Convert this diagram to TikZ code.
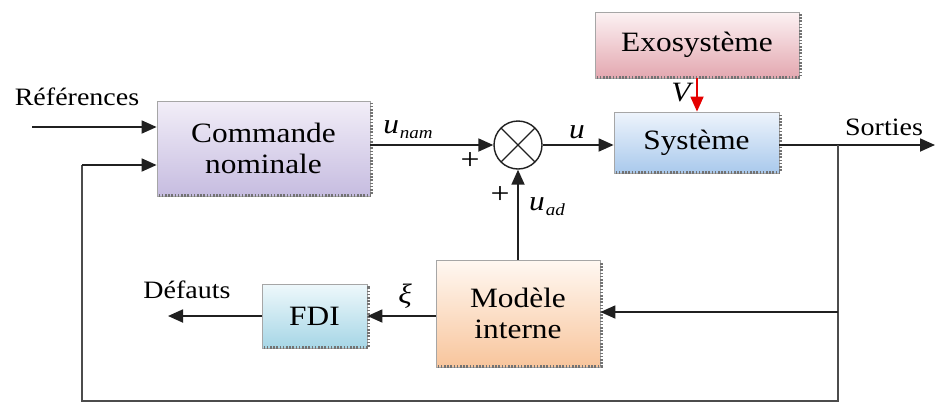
\documentclass[tikz,border=0pt]{standalone}
\usepackage{fontspec}
\setmainfont{Liberation Serif}[FakeStretch=1.12]
\usetikzlibrary{arrows.meta,calc}
\definecolor{cmdtop}{HTML}{F2EEF8}
\definecolor{cmdbot}{HTML}{C6BCE0}
\definecolor{systop}{HTML}{EEF4FC}
\definecolor{sysbot}{HTML}{A9C9EC}
\definecolor{exotop}{HTML}{FCF2F3}
\definecolor{exobot}{HTML}{E3A7B0}
\definecolor{modtop}{HTML}{FFF8F2}
\definecolor{modbot}{HTML}{F8C59C}
\definecolor{fditop}{HTML}{EEF8FB}
\definecolor{fdibot}{HTML}{A6D6E6}
\definecolor{wire}{HTML}{202020}
\tikzset{
  blk/.style={draw=black!35, line width=0.8pt, inner sep=0pt, align=center,
    font=\fontsize{28}{31}\selectfont},
  shadowline/.style={draw=black!55, line width=2.6pt, dash pattern=on 1.6pt off 1.6pt},
  arr/.style={draw=wire, line width=1.8pt, -{Triangle[length=15pt,width=13pt]}},
  ln/.style={draw=wire, line width=1.8pt},
  fb/.style={draw=black!70, line width=2.4pt},
  lbl/.style={font=\fontsize{25}{28}\selectfont, inner sep=0pt},
  plbl/.style={font=\fontsize{30}{30}\selectfont, inner sep=0pt},
  mlbl/.style={font=\fontsize{28}{30}\selectfont\itshape, inner sep=0pt},
}
\newcommand{\shadowedge}[1]{\draw[shadowline] ($(#1.south west)+(2,-1)$) -- ($(#1.south east)+(1,-1)$) -- ($(#1.north east)+(1,2)$);}
\begin{document}
\begin{tikzpicture}[x=1pt,y=-1pt]
\useasboundingbox (0,0) rectangle (936,405);

% blocks
\node[blk, top color=cmdtop, bottom color=cmdbot, minimum width=213pt, minimum height=95pt] (cmd) at (263.5,148.5) {Commande\\nominale};
\node[blk, top color=systop, bottom color=sysbot, minimum width=165pt, minimum height=61pt] (sys) at (696.5,142.5) {Système};
\node[blk, top color=exotop, bottom color=exobot, minimum width=204pt, minimum height=66pt] (exo) at (697,45) {Exosystème};
\node[blk, top color=modtop, bottom color=modbot, minimum width=164pt, minimum height=107pt] (mod) at (518,313.5) {Modèle\\interne};
\node[blk, top color=fditop, bottom color=fdibot, minimum width=105pt, minimum height=64pt] (fdi) at (314.5,316) {FDI};
\shadowedge{cmd}
\shadowedge{sys}
\shadowedge{exo}
\shadowedge{mod}
\shadowedge{fdi}

% summing junction
\node[circle, draw=wire, line width=1.4pt, minimum size=48pt, inner sep=0pt,
  path picture={\draw[wire, line width=1.2pt] (path picture bounding box.north west) -- (path picture bounding box.south east)
  (path picture bounding box.north east) -- (path picture bounding box.south west);}] (sum) at (518,145) {};

% coordinates
\coordinate (refin) at (32,127);
\coordinate (out) at (935,145);
\coordinate (br) at (838,145);
\coordinate (brb) at (838,401);
\coordinate (lb) at (82,401);
\coordinate (lt) at (82,165);
\coordinate (fbm) at (838,312);
\coordinate (def) at (168,316);

% connectors
\draw[arr] (refin) -- (refin -| cmd.west);
\draw[arr] (cmd.east |- sum.west) -- (sum.west);
\draw[arr] (sum.east) -- (sum.east -| sys.west);
\draw[arr] (sys.east |- sum) -- (out);
\draw[fb] (br) -- (brb) -- (lb) -- (lt);
\draw[arr] (lt) -- (lt -| cmd.west);
\draw[arr] (fbm) -- (fbm -| mod.east);
\draw[arr] (mod.north) -- (sum.south);
\draw[arr] (mod.west |- fdi.east) -- (fdi.east);
\draw[arr] (fdi.west) -- (def);
\draw[draw=red!90!black, line width=1.8pt, -{Triangle[length=15pt,width=13pt]}] (exo.south) -- (exo.south |- sys.north);

% labels
\node[lbl] (lref) at (77,97) {Références};
\node[mlbl] (lunam) at (408,130) {u\kern1pt\raisebox{-5pt}{\fontsize{17}{18}\selectfont nam}};
\node[plbl] (lp1) at (470,161) {+};
\node[plbl] (lp2) at (500,195) {+};
\node[mlbl] (luad) at (547,207) {u\kern1pt\raisebox{-5pt}{\fontsize{17}{18}\selectfont ad}};
\node[mlbl] (lu) at (577,132) {u};
\node[mlbl] (lv) at (681,93) {V};
\node[lbl] (lsort) at (884,127) {Sorties};
\node[mlbl] (lxi) at (405,296) {ξ};
\node[lbl] (ldef) at (187,290) {Défauts};
\end{tikzpicture}
\end{document}
